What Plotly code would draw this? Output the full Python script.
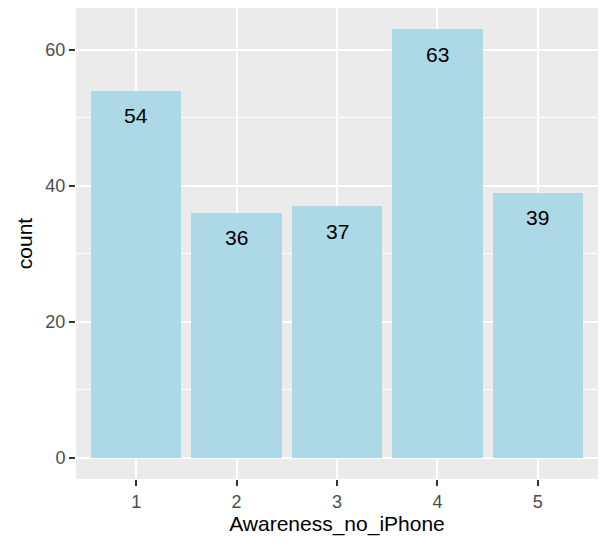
import plotly.graph_objects as go

# Response counts per awareness level
levels = [1, 2, 3, 4, 5]
counts = [54, 36, 37, 63, 39]
y_ticks = [0, 20, 40, 60]

FONT = "Liberation Sans, Arial, Helvetica, sans-serif"
BAR_COLOR = "#ADD8E6"
PANEL_BG = "#EBEBEB"

fig = go.Figure()
fig.add_trace(go.Bar(
    x=levels,
    y=counts,
    width=0.9,
    marker=dict(color=BAR_COLOR, line=dict(width=0)),
    hoverinfo="x+y",
))

# Count labels placed just below each bar's top edge
for lv, c in zip(levels, counts):
    fig.add_annotation(
        x=lv, y=c, text=str(c), showarrow=False,
        yanchor="middle", yshift=-25,
        font=dict(family=FONT, size=21, color="black"),
    )

ymax = max(counts) * 1.05
fig.update_layout(
    width=604, height=542,
    margin=dict(l=76, r=6, t=8, b=63),
    paper_bgcolor="white",
    plot_bgcolor=PANEL_BG,
    showlegend=False,
    bargap=0,
    font=dict(family=FONT),
    xaxis=dict(
        range=[0.4, 5.6],
        tickvals=levels,
        ticktext=[str(v) for v in levels],
        ticks="outside", ticklen=6, tickwidth=1.5, tickcolor="#333333",
        tickfont=dict(size=18, color="#4D4D4D"),
        showgrid=True, gridcolor="white", gridwidth=1.8,
        zeroline=False, showline=False,
        title=dict(text="Awareness_no_iPhone", standoff=5,
                   font=dict(size=21, color="black")),
    ),
    yaxis=dict(
        range=[-max(counts) * 0.05, ymax],
        tickvals=y_ticks,
        ticks="outside", ticklen=6, tickwidth=1.5, tickcolor="#333333",
        tickfont=dict(size=18, color="#4D4D4D"),
        showgrid=True, gridcolor="white", gridwidth=1.8,
        minor=dict(tickvals=[10, 30, 50], showgrid=True,
                   gridcolor="white", gridwidth=0.9, ticks=""),
        zeroline=False, showline=False,
        title=dict(text="count", standoff=7,
                   font=dict(size=21, color="black")),
    ),
)

fig.write_html("out.html")
